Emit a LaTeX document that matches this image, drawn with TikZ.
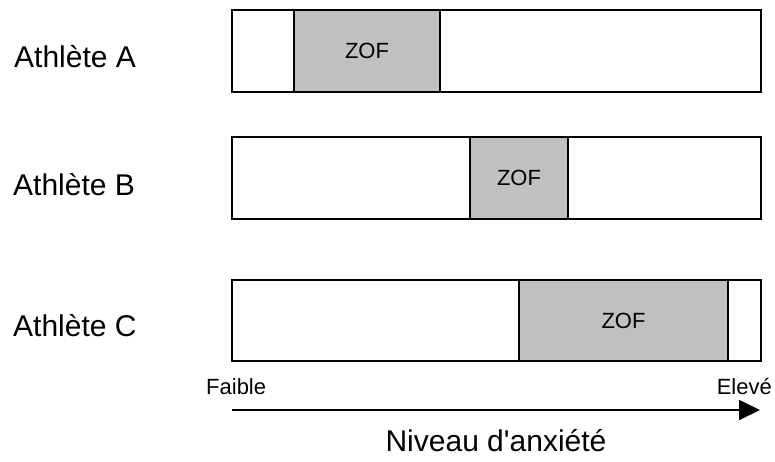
\documentclass[tikz,border=0pt]{standalone}
\usepackage{fontspec}
\setmainfont{Liberation Sans}
\usetikzlibrary{arrows.meta}
\definecolor{zofgray}{HTML}{C0C0C0}
\tikzset{
  bigtxt/.style={font=\fontsize{30}{36}\selectfont, inner sep=0pt},
  smalltxt/.style={font=\fontsize{22}{26}\selectfont, inner sep=0pt},
  scalebox/.style={draw=black, line width=1.7pt, fill=white, inner sep=0pt, outer sep=0pt},
  zofbox/.style={draw=black, line width=1.3pt, fill=zofgray, inner sep=0pt, outer sep=0pt,
                 font=\fontsize{22}{26}\selectfont},
  axis/.style={line width=1.7pt, -{Triangle[length=21pt,width=20pt]}}
}
\begin{document}
\begin{tikzpicture}[x=1pt,y=-1pt]
\useasboundingbox (0,0) rectangle (775,461);
% Athlete A
\node[scalebox, minimum width=529pt, minimum height=82pt] (boxA) at (496.5,51) {};
\node[zofbox, minimum width=146pt, minimum height=82pt] (zofA) at (367,51) {ZOF};
\node[bigtxt, anchor=base west] (labA) at (14,67) {Athlète A};
% Athlete B
\node[scalebox, minimum width=529pt, minimum height=82pt] (boxB) at (496.5,178) {};
\node[zofbox, minimum width=98pt, minimum height=82pt] (zofB) at (519,178) {ZOF};
\node[bigtxt, anchor=base west] (labB) at (13,195) {Athlète B};
% Athlete C
\node[scalebox, minimum width=529pt, minimum height=81pt] (boxC) at (496.5,320.5) {};
\node[zofbox, minimum width=209pt, minimum height=81pt] (zofC) at (623.5,320.5) {ZOF};
\node[bigtxt, anchor=base west] (labC) at (13,336) {Athlète C};
% axis
\node[smalltxt, anchor=base west] (faible) at (206,394) {Faible};
\node[smalltxt, anchor=base east] (eleve) at (772,394) {Elevé};
\coordinate (axstart) at (232,410);
\coordinate (axend) at (760,410);
\draw[axis] (axstart) -- (axend);
\node[bigtxt, anchor=base] (niveau) at (496,451) {Niveau d\textquotesingle anxiété};
\end{tikzpicture}
\end{document}
